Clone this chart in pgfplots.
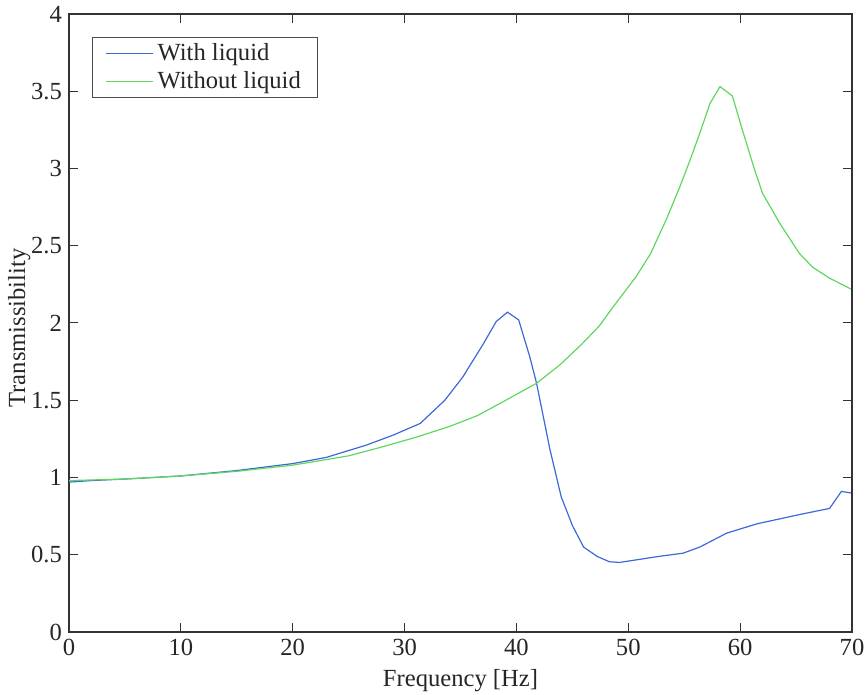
\documentclass[border=0pt]{standalone}
\usepackage{pgfplots}
\pgfplotsset{compat=1.18}
\usepackage{fontspec}
\setmainfont{Liberation Serif}
\definecolor{wblue}{RGB}{60,105,215}
\definecolor{wgreen}{RGB}{95,215,95}
\begin{document}
\begin{tikzpicture}
\begin{axis}[
  scale only axis,
  width=391.5pt, height=309pt,
  xmin=0, xmax=70, ymin=0, ymax=4,
  xtick={0,10,...,70},
  ytick={0,0.5,...,4},
  yticklabels={0,0.5,1,1.5,2,2.5,3,3.5,4},
  tick align=inside,
  major tick length=4.5pt,
  tick style={black!80, line width=0.5pt},
  axis line style={black!80, line width=0.6pt},
  /pgf/number format/assume math mode=true,
  tick label style={font=\fontsize{12.3}{14}\selectfont, text=black!85},
  label style={font=\fontsize{12.3}{14}\selectfont, text=black!85},
  xlabel={Frequency [Hz]},
  ylabel={Transmissibility},
  xlabel style={yshift=0pt},
  ylabel style={yshift=-6.5pt, xshift=-2.5pt},
  legend style={at={(axis cs:2.05,3.85)}, anchor=north west, draw=black!70, line width=0.5pt,
    font=\fontsize{12.3}{14}\selectfont, inner xsep=6.5pt, inner ysep=1pt, row sep=0pt,
    legend cell align=left, text=black!85},
  legend image code/.code={\draw[#1] (0pt,0pt) -- (19.5pt,0pt); \path (0pt,0pt) -- (23.5pt,0pt);},
]
\addplot[wblue, line width=0.6pt] coordinates {
(0,0.97) (2,0.98) (5,0.99) (10,1.01) (15,1.045) (20,1.09) (23,1.13) (26.6,1.21) (29,1.275)
(31.4,1.35) (33.6,1.50) (35.2,1.65) (37,1.86) (38.2,2.01) (39.2,2.07) (40.2,2.02)
(41.2,1.78) (41.8,1.61) (43.0,1.18) (44.0,0.876) (45,0.69) (46.0,0.55) (47.2,0.49)
(48.3,0.455) (49.2,0.45) (51.0,0.47) (52.8,0.49) (54.9,0.51) (56.4,0.55) (58.8,0.64)
(61.5,0.70) (65.3,0.76) (68.0,0.80) (69.05,0.91) (69.9,0.90)
};
\addlegendentry{With liquid}
\addplot[wgreen, line width=0.6pt] coordinates {
(0,0.98) (5,0.99) (10,1.01) (15,1.04) (20,1.08) (25,1.14) (28.1,1.20) (31,1.26)
(34.0,1.33) (36.5,1.40) (38.8,1.49) (41.8,1.61) (43.9,1.73) (45.8,1.86) (47.4,1.98)
(48.6,2.10) (50.7,2.30) (52,2.45) (53.4,2.67) (54.6,2.88) (55.5,3.05) (56.4,3.23)
(57.3,3.42) (58.2,3.53) (59.3,3.47) (60.2,3.25) (61.3,2.99) (62.0,2.84) (63.5,2.65)
(65.3,2.45) (66.5,2.36) (68,2.29) (69.9,2.22)
};
\addlegendentry{Without liquid}
\coordinate (ll) at (rel axis cs:0,0);
\coordinate (ur) at (rel axis cs:1,1);
\end{axis}
\pgfresetboundingbox
\path[use as bounding box] ([xshift=-34.5pt,yshift=-31.5pt]ll) rectangle ([xshift=7.5pt,yshift=7pt]ur);
\end{tikzpicture}
\end{document}
